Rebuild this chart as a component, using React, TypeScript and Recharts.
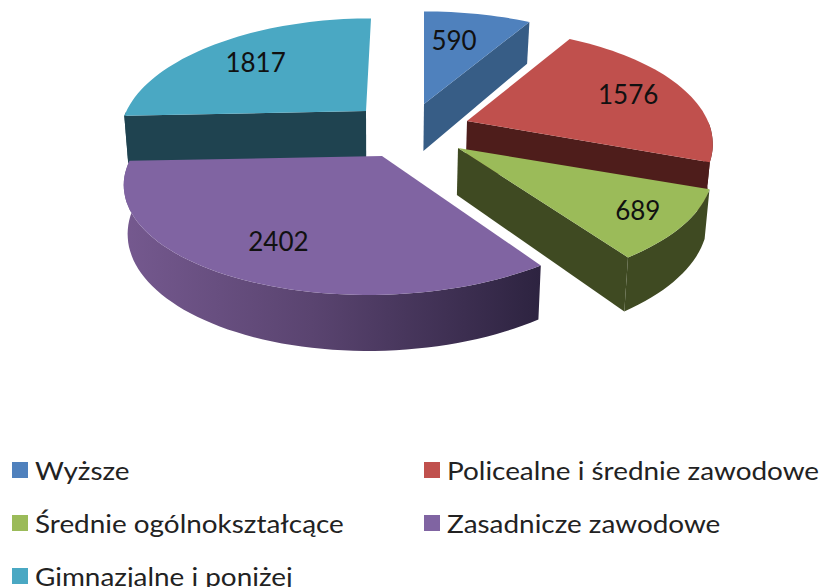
import { Legend, Pie, PieChart } from "recharts";

const categories = [
  "Wyższe",
  "Policealne i średnie zawodowe",
  "Średnie ogólnokształcące",
  "Zasadnicze zawodowe",
  "Gimnazjalne i poniżej",
];
const values = [590, 1576, 689, 2402, 1817];
const topColors = ["#4f81bd", "#c0504d", "#9bbb59", "#8064a2", "#4aa8c3"];
const wallColors = ["#375d86", "#4e1d1b", "#3f4a22", "url(#purpleWall)", "#1f4350"];
// where each pulled-out slice has its tip, relative to the pie centre
const sliceShiftX = [16, 59, 50, -26, -42];
const sliceShiftY = [-29, -12, 15, 23, -22];
// small per-slice corrections, the perspective of the original is not a clean one
const sliceScale = [1, 0.975, 1.01, 1.012, 0.97];
const sliceShear = [0, 0, 0, 14, 5];
const labelReach = [0.71, 0.76, 0.8, 0.7, 0.73];
const labelNudgeX = [-8, 0, 0, 0, -2];

const CX = 408;
const CY = 133;
const FONT = "Lato, sans-serif";

const total = values.reduce((a, b) => a + b, 0);
// cyan has to be painted first, everything else sits in front of it
const drawOrder = [4, 0, 1, 2, 3];
const pieData = drawOrder.map((i) => ({
  name: categories[i],
  value: values[i],
  fill: topColors[i],
  wall: wallColors[i],
  dx: sliceShiftX[i],
  dy: sliceShiftY[i],
  scale: sliceScale[i],
  shear: sliceShear[i],
  reach: labelReach[i],
  nudge: labelNudgeX[i],
}));
const startAngle = 90 + (values[4] / total) * 360;

// fake 3D: tilted plane with some perspective
function project(deg: number, radius: number, slice: any, tipX: number, tipY: number, down = false) {
  const rad = (deg * Math.PI) / 180;
  const s = 1 / (1 + 0.2 * Math.sin(rad));
  const x = tipX + radius * slice.scale * Math.cos(rad) * s + (slice.shear * Math.sin(rad) * radius) / 247;
  const y = tipY - radius * 0.45 * Math.sin(rad) * s;
  if (!down) return [x, y];
  return [x - (x - 382) * 0.015, y + 47 + 36 * (s - 1)];
}

const toPath = (pts: number[][]) =>
  "M" + pts.map((p) => p[0].toFixed(1) + "," + p[1].toFixed(1)).join("L") + "Z";

// a cut face only shows when the slice top lies above its edge
function faceVisible(edge: number[], mid: number[], tipX: number, tipY: number) {
  const ex = edge[0] - tipX;
  const ey = edge[1] - tipY;
  if (Math.abs(ex) < 20) return false;
  const cross = ex * (mid[1] - tipY) - ey * (mid[0] - tipX);
  return cross * Math.sign(ex) < 0;
}

function Slice3D(props: any) {
  const { cx, cy, outerRadius, startAngle: a0, endAngle: a1, payload } = props;
  const tipX = cx + payload.dx;
  const tipY = cy + payload.dy;
  const arc: number[] = [];
  const steps = Math.max(2, Math.ceil(Math.abs(a1 - a0) / 2));
  for (let i = 0; i <= steps; i++) arc.push(a0 + ((a1 - a0) * i) / steps);

  const top = arc.map((a) => project(a, outerRadius, payload, tipX, tipY));
  const mid = top[Math.floor(steps / 2)];
  const bottomAt = (a: number) => project(a, outerRadius, payload, tipX, tipY, true);
  const tipDown = project(0, 0, payload, tipX, tipY, true);
  const face = toPath([[tipX, tipY], ...top]);
  const sideA = toPath([[tipX, tipY], top[0], bottomAt(arc[0]), tipDown]);
  const sideB = toPath([[tipX, tipY], top[steps], bottomAt(arc[steps]), tipDown]);

  // outer rim only on the half of the circle that faces the viewer
  const front = arc.filter((a) => Math.sin((a * Math.PI) / 180) < 0.02);
  const rim =
    front.length > 1
      ? toPath([
          ...front.map((a) => project(a, outerRadius, payload, tipX, tipY)),
          ...[...front].reverse().map(bottomAt),
        ])
      : null;

  return (
    <g>
      {faceVisible(top[0], mid, tipX, tipY) && <path d={sideA} fill={payload.wall} />}
      {faceVisible(top[steps], mid, tipX, tipY) && <path d={sideB} fill={payload.wall} />}
      {rim && <path d={rim} fill={payload.wall} />}
      <path d={face} fill={payload.fill} />
    </g>
  );
}

function sliceLabel(props: any) {
  const { midAngle, cx, cy, outerRadius, payload, value } = props;
  const [x, y] = project(midAngle, outerRadius * payload.reach, payload, cx + payload.dx, cy + payload.dy);
  return (
    <text x={x + payload.nudge} y={y} fill="#111" fontFamily={FONT} fontSize={26} textAnchor="middle" dominantBaseline="central">
      {value}
    </text>
  );
}

function LegendBox() {
  return (
    <div
      style={{
        position: "absolute",
        left: 12,
        top: 453,
        display: "grid",
        gridTemplateColumns: "412px 400px",
        gridAutoRows: "53px",
        fontFamily: FONT,
        fontSize: 25,
        color: "#222",
      }}
    >
      {categories.map((name, i) => (
        <div key={name} style={{ display: "flex", alignItems: "center", whiteSpace: "nowrap", height: 34 }}>
          <span style={{ width: 16, height: 16, background: topColors[i], marginRight: 7 }} />
          {/* the reference text is stretched sideways */}
          <span style={{ display: "inline-block", transform: "scaleX(1.115)", transformOrigin: "left center" }}>{name}</span>
        </div>
      ))}
    </div>
  );
}

export default function App() {
  return (
    <div style={{ position: "absolute", left: 0, top: 0, width: 823, height: 587, background: "#fff", overflow: "hidden" }}>
      <PieChart width={823} height={587} margin={{ top: 0, right: 0, bottom: 0, left: 0 }}>
        <defs>
          <linearGradient id="purpleWall" x1="0" y1="0" x2="1" y2="0">
            <stop offset="0%" stopColor="#75598f" />
            <stop offset="45%" stopColor="#5a4470" />
            <stop offset="100%" stopColor="#2d2340" />
          </linearGradient>
        </defs>
        <Pie
          data={pieData}
          dataKey="value"
          nameKey="name"
          cx={CX}
          cy={CY}
          innerRadius={0}
          outerRadius={247}
          startAngle={startAngle}
          endAngle={startAngle - 360}
          stroke="none"
          labelLine={false}
          label={sliceLabel}
          shape={Slice3D}
          isAnimationActive={false}
        />
        <Legend content={LegendBox} wrapperStyle={{ left: 0, top: 0, width: 0, height: 0 }} />
      </PieChart>
    </div>
  );
}
